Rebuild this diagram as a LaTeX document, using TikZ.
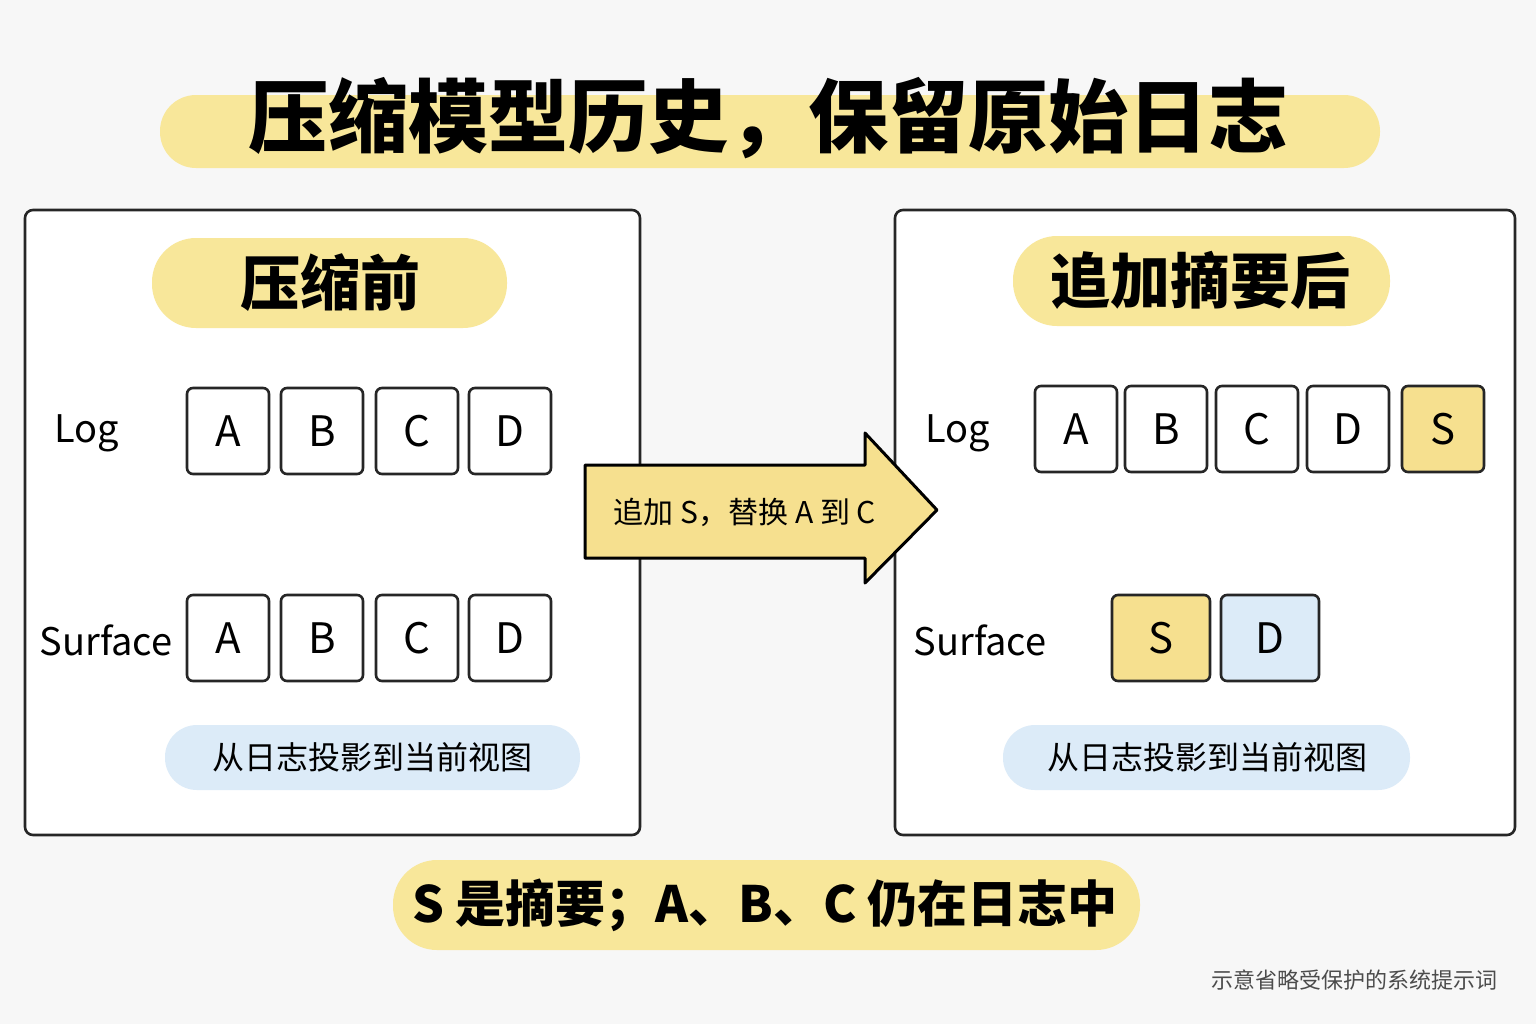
\documentclass[tikz,border=0pt]{standalone}
\usepackage{fontspec}
\setmainfont{Noto Sans CJK SC}
\definecolor{hl}{HTML}{F8E79A}
\definecolor{bl}{HTML}{DCEBF8}
\definecolor{sy}{HTML}{F6E08F}
\begin{document}
\begin{tikzpicture}[x=0.5pt,y=-0.5pt,
  panel/.style={draw=black!85,line width=1.3pt,rounded corners=4pt},
  box/.style={draw=black!85,line width=1.3pt,rounded corners=3pt,minimum width=41pt,minimum height=43pt,font=\fontsize{21}{21}\selectfont,fill=white},
  lbl/.style={font=\fontsize{19}{19}\selectfont},
  hlf/.style={fill=hl,rounded corners=18pt,draw=none}]
\useasboundingbox (0,0) rectangle (1536,1024);
\fill[white!97!black] (0,0) rectangle (1536,1024);
% title
\fill[hlf] (160,95) rectangle (1380,168);
\node (title) at (768,118) {\fontsize{40}{40}\selectfont\bfseries 压缩模型历史，保留原始日志};
% panels
\draw[panel,fill=white] (25,210) rectangle (640,835);
\draw[panel,fill=white] (895,210) rectangle (1515,835);
\fill[hlf,rounded corners=22pt] (152,238) rectangle (507,328);
\node (hl) at (330,283) {\fontsize{30}{30}\selectfont\bfseries 压缩前};
\fill[hlf,rounded corners=22pt] (1013,236) rectangle (1390,326);
\node (hr) at (1200,280) {\fontsize{30}{30}\selectfont\bfseries 追加摘要后};
% left rows
\node[lbl] (logl) at (87,433) {Log};
\node[lbl] (surl) at (106,640) {Surface};
\foreach \t/\x in {A/228,B/322,C/417,D/510}{
  \node[box] (la\t) at (\x,431) {\t};
  \node[box] (ls\t) at (\x,638) {\t};
}
\fill[bl,rounded corners=16pt] (165,725) rectangle (580,790);
\node (bubl) at (372,757) {\fontsize{16}{16}\selectfont 从日志投影到当前视图};
% right rows
\node[lbl] (logr) at (958,433) {Log};
\node[lbl] (surr) at (980,640) {Surface};
\foreach \t/\x in {A/1076,B/1166,C/1257,D/1348}{
  \node[box] (ra\t) at (\x,429) {\t};
}
\node[box,fill=sy] (raS) at (1443,429) {S};
\node[box,fill=sy,minimum width=49pt] (rsS) at (1161,638) {S};
\node[box,fill=bl,minimum width=49pt] (rsD) at (1270,638) {D};
\fill[bl,rounded corners=16pt] (1003,725) rectangle (1410,790);
\node (bubr) at (1207,757) {\fontsize{16}{16}\selectfont 从日志投影到当前视图};
% arrow
\draw[line width=1.5pt,fill=sy,line join=round] (585,465) -- (865,465) -- (865,433) -- (937,510) -- (865,583) -- (865,558) -- (585,558) -- cycle;
\node (arr) at (745,512) {\fontsize{15}{15}\selectfont 追加 S，替换 A 到 C};
% bottom
\fill[hlf,rounded corners=22pt] (393,860) rectangle (1140,950);
\node (note) at (765,905) {\fontsize{25}{25}\selectfont\bfseries S 是摘要；A、B、C 仍在日志中};
\node[anchor=east,text=black!70] (foot) at (1505,980) {\fontsize{11}{11}\selectfont 示意省略受保护的系统提示词};
\end{tikzpicture}
\end{document}
